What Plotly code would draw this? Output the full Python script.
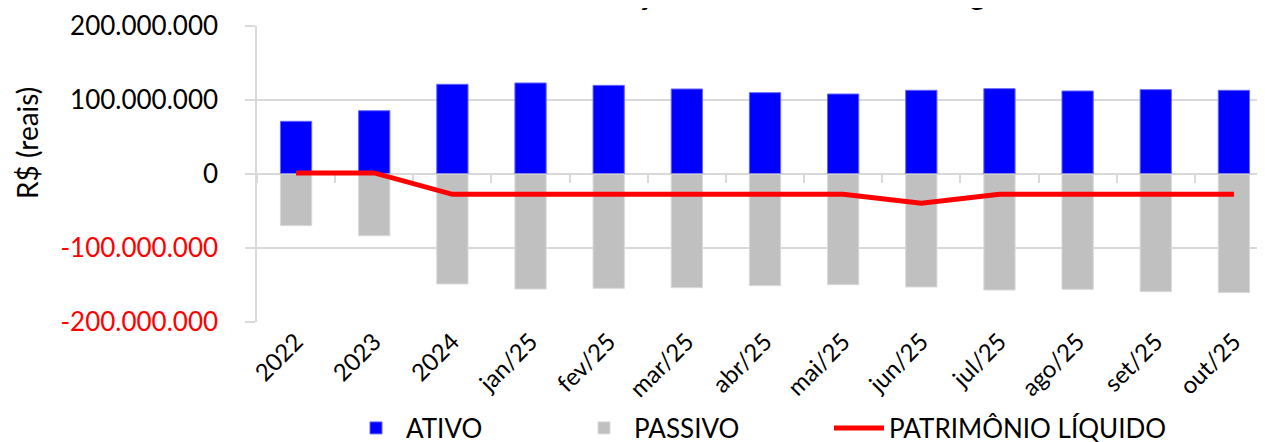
import plotly.graph_objects as go

categories = ["2022", "2023", "2024", "jan/25", "fev/25", "mar/25", "abr/25",
              "mai/25", "jun/25", "jul/25", "ago/25", "set/25", "out/25"]
ativo = [71.2e6, 85.5e6, 121.2e6, 123.0e6, 119.8e6, 114.9e6, 109.9e6,
         108.1e6, 113.1e6, 115.3e6, 112.2e6, 114.0e6, 113.1e6]
passivo = [-69.8e6, -83.4e6, -148.6e6, -155.4e6, -154.5e6, -153.6e6, -150.9e6,
           -149.5e6, -152.7e6, -156.8e6, -155.9e6, -159.0e6, -160.3e6]
patrimonio = [1.5e6, 1.5e6, -27.5e6, -27.5e6, -27.5e6, -27.5e6, -27.5e6,
              -27.5e6, -39.6e6, -27.5e6, -27.5e6, -27.5e6, -27.5e6]
y_tickvals = [200e6, 100e6, 0, -100e6, -200e6]
y_ticktext = ["200.000.000", "100.000.000", "0",
              "<span style='color:#FF0000'>-100.000.000</span>",
              "<span style='color:#FF0000'>-200.000.000</span>"]
title_text = "Evolução Patrimonial e Alavancagem"

FONT = "Lato"
OFF = 8  # page body margin offset

fig = go.Figure()
fig.add_trace(go.Bar(x=categories, y=ativo, name="ATIVO", legend="legend",
                     marker=dict(color="#0000FF", line=dict(color="#6666FF", width=1))))
fig.add_trace(go.Bar(x=categories, y=passivo, name="PASSIVO", legend="legend2",
                     marker=dict(color="#C0C0C0", line=dict(color="#D9D9D9", width=1))))
fig.add_trace(go.Scatter(x=categories, y=patrimonio, name="PATRIMÔNIO LÍQUIDO",
                         legend="legend3",
                         mode="lines", line=dict(color="#FF0000", width=5)))
# invisible trace for the category tick marks on the zero line
fig.add_trace(go.Scatter(x=categories, y=[0] * len(categories), xaxis="x2",
                         mode="lines", line=dict(width=0), showlegend=False,
                         hoverinfo="skip"))

def leg(xpx):
    return dict(orientation="h", xref="container", yref="container",
                x=(xpx - OFF) / 1265, xanchor="left", y=1 - (428 - OFF) / 442,
                yanchor="middle",
                font=dict(family=FONT, size=26), itemwidth=50,
                bgcolor="rgba(0,0,0,0)")

XR = [-0.5, 12.5]

fig.update_layout(
    width=1265, height=442,
    margin=dict(l=257 - OFF, r=0, t=26 - OFF, b=442 - (322 - OFF), autoexpand=False),
    plot_bgcolor="white", paper_bgcolor="white",
    barmode="relative", bargap=0.6,
    font=dict(family=FONT, color="black"),
    showlegend=True,
    legend=leg(346), legend2=leg(574), legend3=leg(829),
    xaxis=dict(type="category", range=XR, tickangle=-45,
               tickfont=dict(size=24, family=FONT), showgrid=False,
               showline=False, ticks="", automargin=False),
    xaxis2=dict(type="category", overlaying="x", anchor="free", position=0.5,
                range=XR, matches="x", showticklabels=False,
                ticks="outside", tickson="boundaries", ticklen=8, tickwidth=1.5,
                tickcolor="#D9D9D9", showline=True, linecolor="#D9D9D9", linewidth=1.5,
                showgrid=False, layer="below traces", automargin=False),
    yaxis=dict(range=[-200e6, 200e6], tickvals=y_tickvals, ticktext=y_ticktext,
               tickfont=dict(size=26, family=FONT), showgrid=True,
               gridcolor="#D9D9D9", gridwidth=1.5, zeroline=False,
               showline=True, linecolor="#D9D9D9", linewidth=1.5,
               ticks="outside", ticklen=10, tickcolor="#D9D9D9", tickwidth=1.5,
               ticklabelstandoff=22,
               automargin=False, layer="below traces"),
    annotations=[
        dict(text="<b>" + title_text + "</b>", xref="paper", yref="paper",
             x=0.53, y=1, yanchor="bottom", yshift=13, showarrow=False,
             font=dict(size=28, family=FONT)),
        dict(text="R$ (reais)", xref="paper", yref="paper", x=0, xshift=-230,
             y=0.605, textangle=-90, showarrow=False, xanchor="center", yanchor="middle",
             font=dict(size=28, family=FONT)),
    ],
)

fig.write_html("out.html")
